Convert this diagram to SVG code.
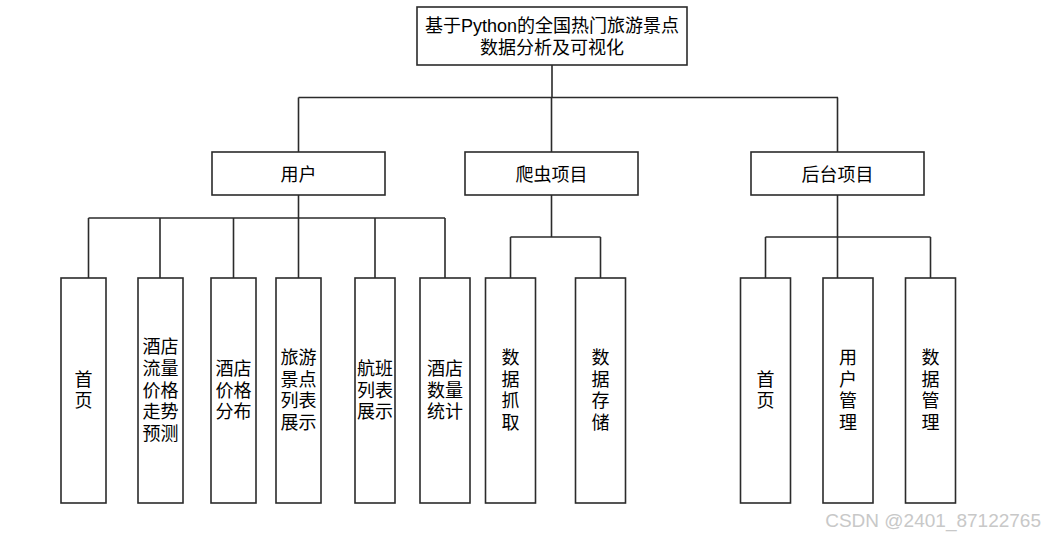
<svg xmlns="http://www.w3.org/2000/svg" width="1044" height="537" viewBox="0 0 1044 537">
<style>
.box{fill:#fff;stroke:#2b2b2b;stroke-width:1.6}
.ln{fill:none;stroke:#2b2b2b;stroke-width:1.6}
text{font-family:"Liberation Sans","Noto Sans CJK SC",sans-serif;font-size:18px;fill:#000;text-anchor:middle;dominant-baseline:central}
.wm{font-size:19px;fill:#c8c8c8;text-anchor:end;dominant-baseline:alphabetic}
</style>
<rect width="1044" height="537" fill="#fff"/>
<g id="connectors">
<path class="ln" d="M552 65V97.5M298.5 97.5H838M298.5 97.5V152M551.5 97.5V152M837.5 97.5V152"/>
<path class="ln" d="M298.5 195V218M88.5 218H445M88.5 218V278M160 218V278M233.5 218V278M298.5 218V278M375 218V278M445 218V278"/>
<path class="ln" d="M551.5 195V237M510.5 237H600.5M510.5 237V278M600.5 237V278"/>
<path class="ln" d="M837.5 195V237M765.5 237H930.5M765.5 237V278M837.5 237V278M930.5 237V278"/>
</g>
<g id="root"><rect class="box" x="417" y="7" width="270" height="58"/><text x="552" y="26">基于Python的全国热门旅游景点</text><text x="552" y="47.5">数据分析及可视化</text></g>
<g id="user"><rect class="box" x="212" y="152" width="173" height="43"/><text x="298.5" y="174.8">用户</text></g>
<g id="crawler"><rect class="box" x="465" y="152" width="173" height="43"/><text x="551.5" y="174.8">爬虫项目</text></g>
<g id="admin"><rect class="box" x="751" y="152" width="173" height="43"/><text x="837.5" y="174.8">后台项目</text></g>
<g id="u-home"><rect class="box" x="61" y="278" width="45" height="225"/><text x="83.5"><tspan x="83.5" y="379.7">首</tspan><tspan x="83.5" y="401.4">页</tspan></text></g>
<g id="u-trend"><rect class="box" x="138" y="278" width="45" height="225"/><text x="160.5"><tspan x="160.5" y="347.1">酒店</tspan><tspan x="160.5" y="368.8">流量</tspan><tspan x="160.5" y="390.5">价格</tspan><tspan x="160.5" y="412.2">走势</tspan><tspan x="160.5" y="433.9">预测</tspan></text></g>
<g id="u-price"><rect class="box" x="211" y="278" width="45" height="225"/><text x="233.5"><tspan x="233.5" y="368.8">酒店</tspan><tspan x="233.5" y="390.5">价格</tspan><tspan x="233.5" y="412.2">分布</tspan></text></g>
<g id="u-spots"><rect class="box" x="276" y="278" width="45" height="225"/><text x="298.5"><tspan x="298.5" y="358">旅游</tspan><tspan x="298.5" y="379.7">景点</tspan><tspan x="298.5" y="401.4">列表</tspan><tspan x="298.5" y="423.1">展示</tspan></text></g>
<g id="u-flight"><rect class="box" x="355" y="278" width="40" height="225"/><text x="375"><tspan x="375" y="368.8">航班</tspan><tspan x="375" y="390.5">列表</tspan><tspan x="375" y="412.2">展示</tspan></text></g>
<g id="u-count"><rect class="box" x="420" y="278" width="50" height="225"/><text x="445"><tspan x="445" y="368.8">酒店</tspan><tspan x="445" y="390.5">数量</tspan><tspan x="445" y="412.2">统计</tspan></text></g>
<g id="c-fetch"><rect class="box" x="485.5" y="278" width="50" height="225"/><text x="510.5"><tspan x="510.5" y="358">数</tspan><tspan x="510.5" y="379.7">据</tspan><tspan x="510.5" y="401.4">抓</tspan><tspan x="510.5" y="423.1">取</tspan></text></g>
<g id="c-store"><rect class="box" x="575.5" y="278" width="50" height="225"/><text x="600.5"><tspan x="600.5" y="358">数</tspan><tspan x="600.5" y="379.7">据</tspan><tspan x="600.5" y="401.4">存</tspan><tspan x="600.5" y="423.1">储</tspan></text></g>
<g id="a-home"><rect class="box" x="740.5" y="278" width="50" height="225"/><text x="765.5"><tspan x="765.5" y="379.7">首</tspan><tspan x="765.5" y="401.4">页</tspan></text></g>
<g id="a-user"><rect class="box" x="823" y="278" width="50" height="225"/><text x="848"><tspan x="848" y="358">用</tspan><tspan x="848" y="379.7">户</tspan><tspan x="848" y="401.4">管</tspan><tspan x="848" y="423.1">理</tspan></text></g>
<g id="a-data"><rect class="box" x="905.5" y="278" width="50" height="225"/><text x="930.5"><tspan x="930.5" y="358">数</tspan><tspan x="930.5" y="379.7">据</tspan><tspan x="930.5" y="401.4">管</tspan><tspan x="930.5" y="423.1">理</tspan></text></g>
<text class="wm" x="1041" y="527">CSDN @2401_87122765</text>
</svg>
